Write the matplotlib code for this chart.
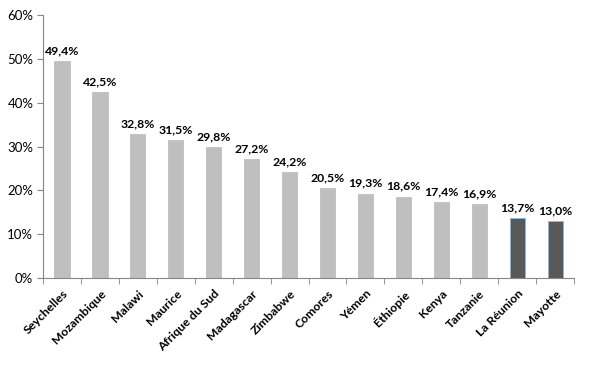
import matplotlib.pyplot as plt
import numpy as np

countries = ['Seychelles', 'Mozambique', 'Malawi', 'Maurice', 'Afrique du Sud',
             'Madagascar', 'Zimbabwe', 'Comores', 'Yémen', 'Éthiopie', 'Kenya',
             'Tanzanie', 'La Réunion', 'Mayotte']
values = [49.4, 42.5, 32.8, 31.5, 29.8, 27.2, 24.2, 20.5, 19.3, 18.6, 17.4,
          16.9, 13.7, 13.0]
highlight = ['La Réunion', 'Mayotte']

plt.rcParams['font.family'] = ['Lato', 'DejaVu Sans']

fig = plt.figure(figsize=(5.9, 3.66), dpi=100)
ax = fig.add_axes([0.073, 0.240, 0.900, 0.719])

x = np.arange(len(countries))
colors = ['#595959' if c in highlight else '#BFBFBF' for c in countries]
edges = ['#8EB4E3' if c in highlight else '#BFBFBF' for c in countries]
ax.bar(x, values, width=0.4, color=colors, edgecolor=edges, linewidth=0.6)

for xi, v in zip(x, values):
    ax.text(xi, v + 1.1, '{:.1f}%'.format(v).replace('.', ','), ha='center',
            va='bottom', fontsize=8.8, fontweight='bold', color='black')

ax.set_xlim(-0.5, len(countries) - 0.5)
ax.set_ylim(0, 60)
ax.set_yticks(range(0, 61, 10))
ax.set_yticklabels(['{}%'.format(t) for t in range(0, 61, 10)], fontsize=9.5)

ax.set_xticks(x)
ax.set_xticklabels(countries, rotation=45, ha='right', rotation_mode='anchor',
                   fontsize=8.8, fontweight='bold')
ax.tick_params(axis='x', length=0, pad=7)
ax.set_xticks(np.arange(-0.5, len(countries)), minor=True)
ax.tick_params(axis='x', which='minor', length=4, color='#868686')
ax.tick_params(axis='y', length=4, color='#868686', pad=3)

for s in ['top', 'right']:
    ax.spines[s].set_visible(False)
for s in ['left', 'bottom']:
    ax.spines[s].set_color('#868686')
    ax.spines[s].set_linewidth(0.8)

plt.savefig('out.png', dpi=100)
